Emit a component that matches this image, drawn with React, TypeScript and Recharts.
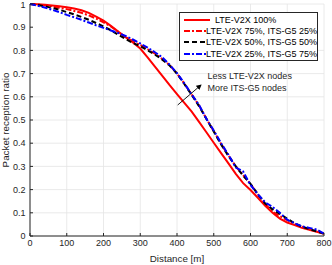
import { CartesianGrid, Line, LineChart, XAxis, YAxis } from "recharts";

const distance = [
  0, 20, 40, 60, 80, 100, 120, 140, 160, 180, 200, 220, 240, 260, 280, 300, 320, 340, 360, 380, 400,
  420, 440, 460, 480, 500, 520, 540, 560, 580, 600, 620, 640, 660, 680, 700, 720, 740, 760, 780, 800
];

const lte100 = [
  1.0, 0.999, 0.997, 0.994, 0.99, 0.986, 0.981, 0.973, 0.962, 0.946, 0.928, 0.906, 0.881, 0.857, 0.834,
  0.808, 0.77, 0.73, 0.69, 0.65, 0.612, 0.574, 0.536, 0.492, 0.447, 0.402, 0.357, 0.313, 0.268, 0.228,
  0.198, 0.165, 0.13, 0.1, 0.075, 0.058, 0.047, 0.035, 0.027, 0.018, 0.01
];

const lte75 = [
  1.0, 0.998, 0.995, 0.99, 0.984, 0.978, 0.97, 0.962, 0.951, 0.937, 0.921, 0.903, 0.88, 0.858, 0.84,
  0.823, 0.805, 0.786, 0.763, 0.737, 0.7, 0.657, 0.61, 0.562, 0.505, 0.452, 0.397, 0.347, 0.3, 0.262,
  0.224, 0.18, 0.138, 0.105, 0.085, 0.068, 0.052, 0.04, 0.03, 0.02, 0.01
];

const lte50 = [
  1.0, 0.996, 0.99, 0.983, 0.975, 0.965, 0.955, 0.944, 0.932, 0.918, 0.903, 0.887, 0.868, 0.849, 0.832,
  0.818, 0.8, 0.782, 0.76, 0.735, 0.7, 0.655, 0.608, 0.56, 0.505, 0.45, 0.395, 0.345, 0.3, 0.26,
  0.225, 0.18, 0.14, 0.115, 0.095, 0.075, 0.055, 0.04, 0.03, 0.02, 0.01
];

const lte25 = [
  1.0, 0.993, 0.985, 0.975, 0.965, 0.953, 0.943, 0.932, 0.92, 0.908, 0.897, 0.886, 0.875, 0.862, 0.847,
  0.83, 0.812, 0.792, 0.77, 0.738, 0.702, 0.658, 0.61, 0.565, 0.505, 0.455, 0.4, 0.35, 0.295, 0.278,
  0.22, 0.18, 0.145, 0.125, 0.1, 0.07, 0.055, 0.042, 0.035, 0.028, 0.01
];

const xTicks = [0, 100, 200, 300, 400, 500, 600, 700, 800];
const yTicks = [0, 0.1, 0.2, 0.3, 0.4, 0.5, 0.6, 0.7, 0.8, 0.9, 1];

const seriesNames = [
  "LTE-V2X 100%",
  "LTE-V2X 75%, ITS-G5 25%",
  "LTE-V2X 50%, ITS-G5 50%",
  "LTE-V2X 25%, ITS-G5 75%"
];

const data = distance.map((d, i) => ({
  d,
  s100: lte100[i],
  s75: lte75[i],
  s50: lte50[i],
  s25: lte25[i]
}));

const font = "'Liberation Sans', Arial, sans-serif";
const axisColor = "#262626";
const tickStyle = { fontSize: 9, fill: axisColor, fontFamily: font };

const styles = [
  { key: "s100", color: "#ff0000", dash: undefined },
  { key: "s75", color: "#ff0000", dash: "6 2 2 2" },
  { key: "s50", color: "#000000", dash: "5 3" },
  { key: "s25", color: "#0000ff", dash: "6 2 2 2" }
];

function LegendBox() {
  return (
    <div
      style={{
        position: "absolute",
        left: 179,
        top: 12,
        border: `1px solid ${axisColor}`,
        background: "#fff",
        width: 137,
        height: 46,
        paddingTop: 1,
        fontFamily: font,
        fontSize: 9,
        color: "#000"
      }}
    >
      {styles.map((s, i) => (
        <div key={s.key} style={{ display: "flex", alignItems: "center", height: 11.3 }}>
          <svg width={32} height={6} style={{ marginLeft: 3 }}>
            <line x1={1} y1={3} x2={27} y2={3} stroke={s.color} strokeWidth={2} strokeDasharray={s.dash} />
          </svg>
          <span style={{ whiteSpace: "nowrap" }}>{seriesNames[i]}</span>
        </div>
      ))}
    </div>
  );
}

export default function App() {
  return (
    <div style={{ position: "fixed", left: 0, top: 0, width: 332, height: 265, background: "#fff" }}>
      <LineChart width={332} height={265} data={data} margin={{ top: 4, right: 8, bottom: 0, left: 0 }}>
        <CartesianGrid stroke="#e4e4e4" strokeWidth={0.8} horizontalValues={yTicks} verticalValues={xTicks} />
        <XAxis
          dataKey="d"
          type="number"
          domain={[0, 800]}
          ticks={xTicks}
          height={29}
          tickSize={-3}
          tickMargin={7}
          stroke={axisColor}
          tick={tickStyle}
          label={({ viewBox }: any) => (
            <text
              x={viewBox.x + viewBox.width / 2}
              y={viewBox.y + 26}
              textAnchor="middle"
              fontSize={9.8}
              fill={axisColor}
              fontFamily={font}
            >
              Distance [m]
            </text>
          )}
        />
        <XAxis
          xAxisId="top"
          orientation="top"
          dataKey="d"
          type="number"
          domain={[0, 800]}
          ticks={xTicks}
          height={0}
          tickSize={-3}
          tickFormatter={() => ""}
          stroke={axisColor}
        />
        <YAxis
          type="number"
          domain={[0, 1]}
          ticks={yTicks}
          width={30}
          tickSize={-3}
          tickMargin={7.5}
          stroke={axisColor}
          tick={tickStyle}
          label={({ viewBox }: any) => {
            const cx = 8.5;
            const cy = viewBox.y + viewBox.height / 2;
            return (
              <text
                x={cx}
                y={cy}
                transform={`rotate(-90 ${cx} ${cy})`}
                textAnchor="middle"
                fontSize={9.8}
                fill={axisColor}
                fontFamily={font}
              >
                Packet reception ratio
              </text>
            );
          }}
        />
        <YAxis
          yAxisId="right"
          orientation="right"
          type="number"
          domain={[0, 1]}
          ticks={yTicks}
          width={0}
          tickSize={-3}
          tickFormatter={() => ""}
          stroke={axisColor}
        />
        {styles.map((s) => (
          <Line
            key={s.key}
            dataKey={s.key}
            stroke={s.color}
            strokeWidth={2}
            strokeDasharray={s.dash}
            dot={false}
            type="linear"
            isAnimationActive={false}
          />
        ))}
      </LineChart>
      <LegendBox />
      <svg
        width={332}
        height={265}
        style={{ position: "absolute", left: 0, top: 0, pointerEvents: "none" }}
      >
        <defs>
          <marker id="head" markerWidth="6" markerHeight="6" refX="5" refY="3" orient="auto">
            <path d="M0,0 L6,3 L0,6 Z" fill="#000" />
          </marker>
        </defs>
        <line x1={177.7} y1={105} x2={201} y2={85} stroke="#000" strokeWidth={0.9} markerEnd="url(#head)" />
      </svg>
      <div
        style={{
          position: "absolute",
          left: 207.5,
          top: 71,
          fontFamily: font,
          fontSize: 9,
          lineHeight: "11.6px",
          color: axisColor,
          whiteSpace: "nowrap"
        }}
      >
        <div>Less LTE-V2X nodes</div>
        <div>More ITS-G5 nodes</div>
      </div>
    </div>
  );
}
